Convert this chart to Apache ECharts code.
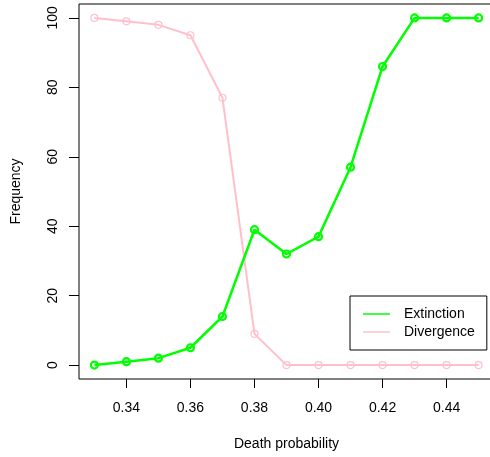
<!DOCTYPE html>
<html>
<head>
<meta charset="utf-8">
<script src="https://cdn.jsdelivr.net/npm/echarts@6/dist/echarts.min.js"></script>
<style>
html,body{margin:0;padding:0;background:#fff;}
#c{width:490px;height:457px;}
</style>
</head>
<body>
<div id="c"></div>
<script>
const deathProb = [0.33,0.34,0.35,0.36,0.37,0.38,0.39,0.40,0.41,0.42,0.43,0.44,0.45];
const extinction = [0,1,2,5,14,39,32,37,57,86,100,100,100];
const divergence = [100,99,98,95,77,9,0,0,0,0,0,0,0];
const xTicks = [0.34,0.36,0.38,0.40,0.42,0.44];
const yTicks = [0,20,40,60,80,100];

const FONT = 'Liberation Sans, Arial, sans-serif';
const chart = echarts.init(document.getElementById('c'), null, {renderer:'canvas'});
const pair = arr => deathProb.map((x,i)=>[x, arr[i]]);

chart.setOption({
  animation:false,
  backgroundColor:'#fff',
  grid:{left:79, top:4, width:415, height:375, containLabel:false, outerBoundsMode:'none',
    show:true, borderColor:'#000', borderWidth:1, backgroundColor:'transparent'},
  xAxis:{
    type:'value', min:0.3252, max:0.4548,
    name:'Death probability', nameLocation:'middle', nameGap:58,
    nameTextStyle:{fontFamily:FONT, fontSize:14, color:'#000'},
    axisLine:{show:false, onZero:false},
    axisTick:{show:true, inside:false, length:9, customValues:xTicks, lineStyle:{color:'#000'}},
    axisLabel:{customValues:xTicks, margin:22, fontFamily:FONT, fontSize:14, color:'#000',
      formatter:v=>v.toFixed(2)},
    splitLine:{show:false}
  },
  yAxis:{
    type:'value', min:-4, max:104,
    name:'Frequency', nameLocation:'middle', nameGap:56, nameRotate:90,
    nameTextStyle:{fontFamily:FONT, fontSize:14, color:'#000'},
    axisLine:{show:false, onZero:false},
    axisTick:{show:true, inside:false, length:10, customValues:yTicks, lineStyle:{color:'#000'}},
    axisLabel:{customValues:yTicks, rotate:90, margin:19, fontFamily:FONT, fontSize:14, color:'#000'},
    splitLine:{show:false}
  },
  legend:{
    left:350, top:296,
    orient:'vertical',
    data:[{name:'Extinction', icon:'rect', itemStyle:{color:'#00FF00', borderWidth:0}},
          {name:'Divergence', icon:'rect', itemStyle:{color:'#FFC0CB', borderWidth:0}}],
    itemWidth:27, itemHeight:1.5, itemGap:2,
    padding:[10,12,10,13],
    borderColor:'#000', borderWidth:1, borderRadius:0,
    backgroundColor:'#fff',
    textStyle:{fontFamily:FONT, fontSize:14, color:'#000', lineHeight:16, padding:[0,0,0,9]}
  },
  series:[
    {name:'Divergence', type:'line', data:pair(divergence),
      symbol:'circle', symbolSize:7, z:2,
      lineStyle:{color:'#FFC0CB', width:2},
      itemStyle:{color:'rgba(255,255,255,0)', borderColor:'#FFC0CB', borderWidth:1.2}},
    {name:'Extinction', type:'line', data:pair(extinction),
      symbol:'circle', symbolSize:7, z:3,
      lineStyle:{color:'#00FF00', width:2.5},
      itemStyle:{color:'rgba(255,255,255,0)', borderColor:'#00FF00', borderWidth:2.2}}
  ]
});
</script>
</body>
</html>
